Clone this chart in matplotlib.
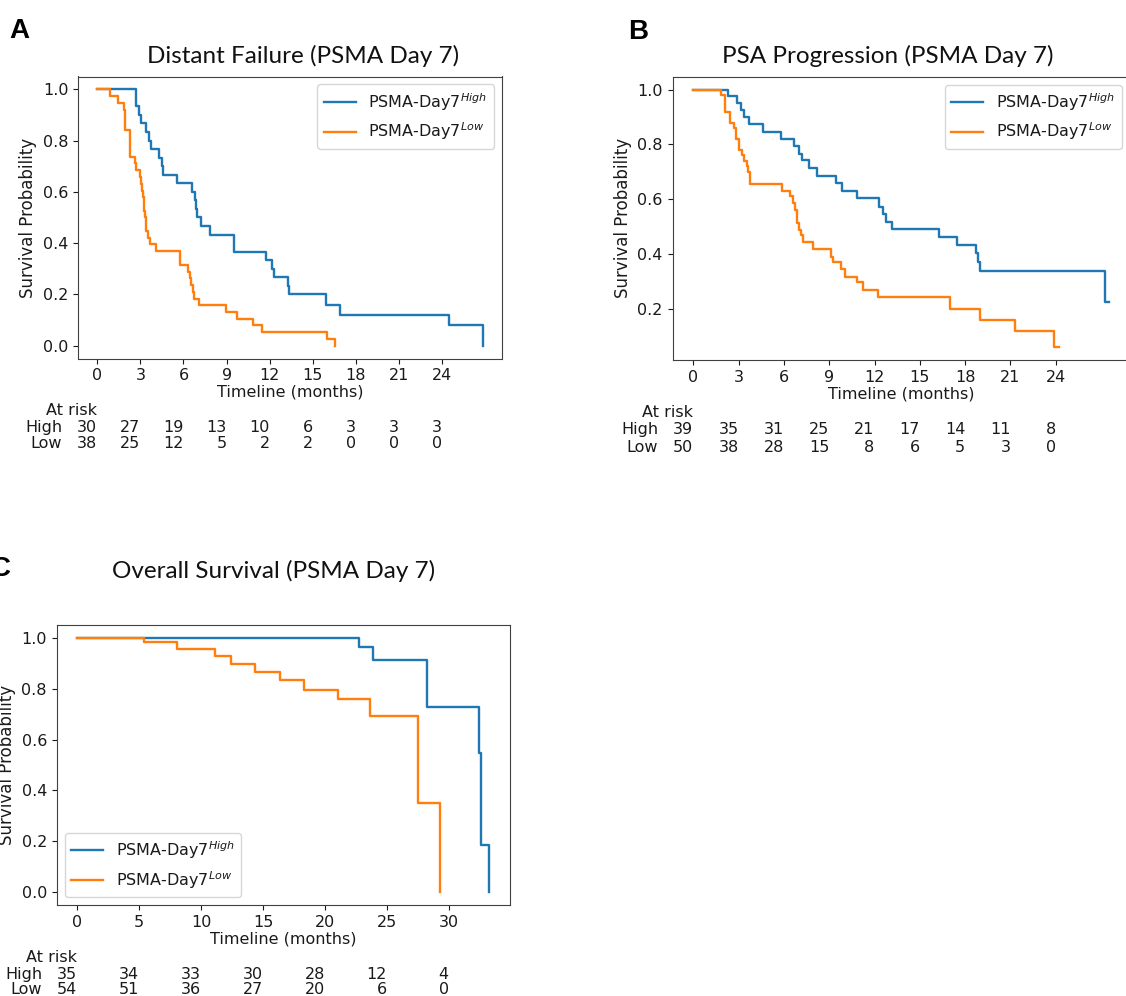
import numpy as np
import matplotlib
matplotlib.use("Agg")
import matplotlib.pyplot as plt
from matplotlib.transforms import blended_transform_factory, ScaledTranslation

# ---- Panel A: Distant Failure (PSMA Day 7) ----
a_high_t = [0, 2.71, 2.90, 3.06, 3.41, 3.59, 3.75, 4.33, 4.52, 4.57, 5.56, 6.58, 6.82, 6.88,
            6.95, 7.19, 7.88, 9.50, 9.55, 11.75, 12.17, 12.33, 13.26, 13.33, 15.93, 16.90,
            24.51, 26.83]
a_high_s = [1.0, 0.933, 0.900, 0.867, 0.833, 0.800, 0.767, 0.733, 0.700, 0.667, 0.633, 0.600,
            0.567, 0.533, 0.500, 0.467, 0.433, 0.400, 0.367, 0.333, 0.300, 0.267, 0.233,
            0.200, 0.160, 0.120, 0.080, 0.0]
a_low_t = [0, 0.90, 1.44, 1.83, 1.95, 2.25, 2.29, 2.66, 2.71, 2.94, 3.06, 3.13, 3.17, 3.22,
           3.26, 3.31, 3.36, 3.41, 3.52, 3.68, 4.10, 5.73, 6.30, 6.42, 6.53, 6.65, 6.76,
           7.05, 8.97, 9.74, 10.87, 11.45, 16.00, 16.55]
a_low_s = [1.0, 0.974, 0.947, 0.921, 0.842, 0.816, 0.737, 0.711, 0.684, 0.658, 0.632, 0.605,
           0.579, 0.553, 0.526, 0.500, 0.474, 0.447, 0.421, 0.395, 0.368, 0.316, 0.289,
           0.263, 0.237, 0.211, 0.184, 0.158, 0.132, 0.105, 0.079, 0.053, 0.026, 0.0]
a_ticks = [0, 3, 6, 9, 12, 15, 18, 21, 24]
a_risk_high = [30, 27, 19, 13, 10, 6, 3, 3, 3]
a_risk_low = [38, 25, 12, 5, 2, 2, 0, 0, 0]

# ---- Panel B: PSA Progression (PSMA Day 7) ----
b_high_t = [0, 2.32, 2.87, 3.13, 3.35, 3.68, 4.63, 5.80, 6.68, 7.00, 7.17, 7.66, 8.16, 9.44,
            9.86, 10.81, 12.31, 12.53, 12.75, 13.17, 16.26, 17.43, 18.69, 18.82, 18.98,
            27.29, 27.51]
b_high_s = [1.0, 0.976, 0.951, 0.927, 0.900, 0.873, 0.847, 0.820, 0.795, 0.766, 0.742, 0.713,
            0.686, 0.659, 0.629, 0.604, 0.574, 0.547, 0.519, 0.491, 0.464, 0.433, 0.403,
            0.373, 0.339, 0.227, 0.227]
b_low_t = [0, 1.81, 2.10, 2.43, 2.72, 2.83, 3.05, 3.21, 3.35, 3.53, 3.64, 3.75, 5.89, 6.40,
           6.57, 6.73, 6.84, 7.00, 7.13, 7.28, 7.94, 9.11, 9.22, 9.75, 10.04, 10.81, 11.21,
           12.25, 16.99, 18.98, 21.29, 23.89, 24.22]
b_low_s = [1.0, 0.98, 0.92, 0.88, 0.86, 0.82, 0.78, 0.76, 0.74, 0.72, 0.70, 0.655, 0.632,
           0.613, 0.586, 0.562, 0.515, 0.489, 0.470, 0.446, 0.419, 0.391, 0.373, 0.345,
           0.318, 0.300, 0.270, 0.243, 0.202, 0.162, 0.121, 0.062, 0.062]
b_ticks = [0, 3, 6, 9, 12, 15, 18, 21, 24]
b_risk_high = [39, 35, 31, 25, 21, 17, 14, 11, 8]
b_risk_low = [50, 38, 28, 15, 8, 6, 5, 3, 0]

# ---- Panel C: Overall Survival (PSMA Day 7) ----
c_high_t = [0, 22.77, 23.85, 28.24, 32.42, 32.64, 33.28]
c_high_s = [1.0, 0.962, 0.912, 0.729, 0.546, 0.186, 0.0]
c_low_t = [0, 5.42, 8.09, 11.08, 12.40, 14.37, 16.33, 18.28, 21.05, 23.66, 27.51, 29.27]
c_low_s = [1.0, 0.982, 0.954, 0.928, 0.895, 0.864, 0.834, 0.795, 0.758, 0.692, 0.349, 0.0]
c_ticks = [0, 5, 10, 15, 20, 25, 30]
c_risk_high = [35, 34, 33, 30, 28, 12, 4]
c_risk_low = [54, 51, 36, 27, 20, 6, 0]

BLUE = "#1f77b4"
ORANGE = "#ff7f0e"
TXT = "#1a1a1a"

plt.rcParams.update({
    "font.family": "DejaVu Sans",
    "mathtext.fontset": "dejavusans",
    "font.size": 11.5,
    "axes.edgecolor": "#404040",
    "xtick.color": TXT,
    "ytick.color": TXT,
    "xtick.labelcolor": TXT,
    "ytick.labelcolor": TXT,
    "axes.labelcolor": TXT,
    "text.color": TXT,
})

W, H = 1126, 996
fig = plt.figure(figsize=(W / 100, H / 100), dpi=100)


def rect(left, top, right, bottom):
    # pixel box -> figure fraction
    return [left / W, 1 - bottom / H, (right - left) / W, (bottom - top) / H]


def km_panel(box, t_hi, s_hi, t_lo, s_lo, ticks, yticks, legend_loc,
             risk_hi, risk_lo, risk_rows):
    ax = fig.add_axes(rect(*box))
    ax.step(t_hi, s_hi, where="post", color=BLUE, lw=1.7, label=r"PSMA-Day7$^{High}$")
    ax.step(t_lo, s_lo, where="post", color=ORANGE, lw=1.7, label=r"PSMA-Day7$^{Low}$")
    ax.set_xticks(ticks)
    ax.set_yticks(yticks)
    ax.tick_params(labelsize=11.5)
    ax.set_xlabel("Timeline (months)", fontsize=11.5, labelpad=1)
    ax.set_ylabel("Survival Probability", fontsize=12)
    ax.legend(loc=legend_loc, fontsize=11.5)

    # at-risk table under the axis
    tr = blended_transform_factory(ax.transData, fig.transFigure)
    shift = ScaledTranslation(-35 / 100, 0, fig.dpi_scale_trans)
    y_head, y_hi, y_lo = [1 - v / H for v in risk_rows]
    ax.text(ticks[0], y_head, "At risk", ha="right", va="baseline", transform=tr)
    ax.text(ticks[0], y_hi, "High", ha="right", va="baseline", transform=tr + shift)
    ax.text(ticks[0], y_lo, "Low", ha="right", va="baseline", transform=tr + shift)
    for tk, nh, nl in zip(ticks, risk_hi, risk_lo):
        ax.text(tk, y_hi, str(nh), ha="right", va="baseline", transform=tr)
        ax.text(tk, y_lo, str(nl), ha="right", va="baseline", transform=tr)
    return ax


yt = [0.0, 0.2, 0.4, 0.6, 0.8, 1.0]
km_panel((78, 76.5, 502, 358.5), a_high_t, a_high_s, a_low_t, a_low_s, a_ticks, yt,
         "upper right", a_risk_high, a_risk_low, (415, 431.7, 447.7))
km_panel((672.5, 76.7, 1129.6, 360), b_high_t, b_high_s, b_low_t, b_low_s, b_ticks,
         [0.2, 0.4, 0.6, 0.8, 1.0], "upper right", b_risk_high, b_risk_low,
         (416.7, 434.3, 451.7))
km_panel((56.7, 625, 510, 905), c_high_t, c_high_s, c_low_t, c_low_s, c_ticks, yt,
         "lower left", c_risk_high, c_risk_low, (961.7, 979, 994.3))

# panel titles
title_kw = dict(fontsize=17.5, family="Lato", ha="center", va="baseline", color="#111111")
fig.text(303 / W, 1 - 63 / H, "Distant Failure (PSMA Day 7)", **title_kw)
fig.text(888 / W, 1 - 63 / H, "PSA Progression (PSMA Day 7)", **title_kw)
fig.text(274 / W, 1 - 578 / H, "Overall Survival (PSMA Day 7)", **title_kw)

# panel letters (C sits partly past the left edge, as in the source figure)
letter_kw = dict(fontsize=20, family="Liberation Sans", weight="bold", ha="left",
                 va="baseline", color="black")
fig.text(9 / W, 1 - 38 / H, "A", **letter_kw)
fig.text(628 / W, 1 - 39 / H, "B", **letter_kw)
fig.text(-9 / W, 1 - 576 / H, "C", **letter_kw)

fig.savefig("out.png", dpi=100, facecolor="white")
plt.close(fig)
